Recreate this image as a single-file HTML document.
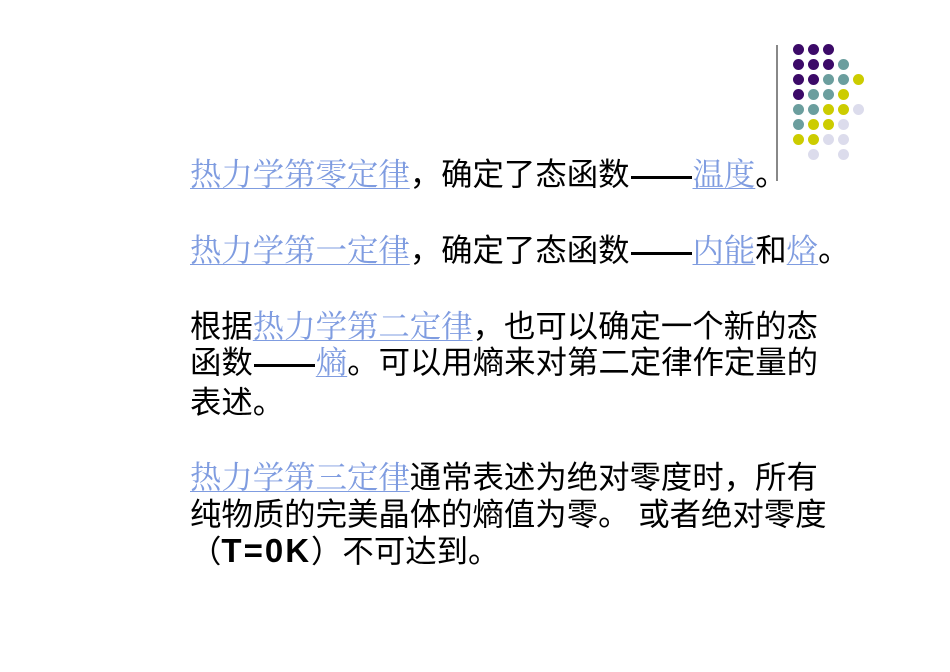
<!DOCTYPE html>
<html><head><meta charset="utf-8"><style>
body{margin:0;width:950px;height:672px;background:#fff;position:relative;overflow:hidden}
.l{position:absolute;left:190px;height:40px;line-height:40px;font-size:31.4px;white-space:nowrap;color:#000;font-family:"Liberation Sans","Noto Sans CJK SC",sans-serif}
.a{color:#7f9ce0;text-decoration:underline;text-decoration-thickness:1px;text-underline-offset:3px;font-family:"Liberation Serif","Noto Serif CJK SC",serif}
.m{display:inline-block;width:63px;height:40px;vertical-align:top;position:relative}
.m::after{content:"";position:absolute;left:1px;right:1px;top:21px;height:3px;background:#000}
.d{position:absolute;width:11px;height:11px;border-radius:50%}
.P{background:#3c0a68}.T{background:#6b9e9e}.Y{background:#cccc00}.L{background:#dcdcec}
</style></head><body>
<div style="position:absolute;left:776px;top:45px;width:2px;height:136px;background:#888"></div>
<div class="l" style="top:155px"><span class="a">热力学第零定律</span>，确定了态函数<span class="m"></span><span class="a">温度</span>。</div>
<div class="l" style="top:231px"><span class="a">热力学第一定律</span>，确定了态函数<span class="m"></span><span class="a">内能</span>和<span class="a">焓</span>。</div>
<div class="l" style="top:307px">根据<span class="a">热力学第二定律</span>，也可以确定一个新的态</div>
<div class="l" style="top:343px">函数<span class="m"></span><span class="a">熵</span>。可以用熵来对第二定律作定量的</div>
<div class="l" style="top:383px">表述。</div>
<div class="l" style="top:458px"><span class="a">热力学第三定律</span>通常表述为绝对零度时，所有</div>
<div class="l" style="top:495px">纯物质的完美晶体的熵值为零。 或者绝对零度</div>
<div class="l" style="top:531px">（<b style="letter-spacing:2px;font-size:33px">T=0K</b>）不可达到。</div>
<div id="dots"></div>
<script>
var rows=["PPP","PPPT","PPTTY","PTTY","TTYYL","TYYL","YYLL"," L L"];
var h="";rows.forEach(function(r,i){for(var j=0;j<r.length;j++){if(r[j]!=" ")h+='<div class="d '+r[j]+'" style="left:'+(793+15*j)+'px;top:'+(44+15*i)+'px"></div>';}});
document.getElementById("dots").innerHTML=h;
</script>
</body></html>
